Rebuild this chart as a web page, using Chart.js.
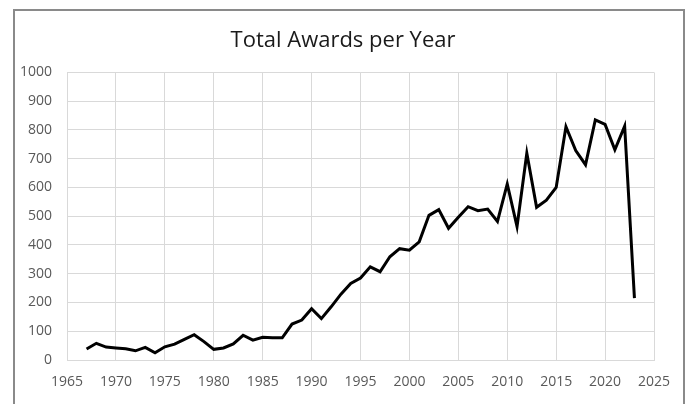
<!DOCTYPE html>
<html>
<head>
<meta charset="utf-8">
<script src="https://cdn.jsdelivr.net/npm/chart.js@4/dist/chart.umd.min.js"></script>
<style>
  html, body { margin: 0; padding: 0; background: #fff; }
  #wrap { position: relative; width: 686px; height: 404px; overflow: hidden; }
  #frame {
    position: absolute; left: 13px; top: 9px; width: 668px; height: 420px;
    border: 2px solid #8a8a8a; pointer-events: none;
  }
</style>
</head>
<body>
<div id="wrap">
  <canvas id="awards" width="686" height="404"></canvas>
  <div id="frame"></div>
</div>
<script>
const years = [
  1967, 1968, 1969, 1970, 1971, 1972, 1973, 1974, 1975, 1976,
  1977, 1978, 1979, 1980, 1981, 1982, 1983, 1984, 1985, 1986,
  1987, 1988, 1989, 1990, 1991, 1992, 1993, 1994, 1995, 1996,
  1997, 1998, 1999, 2000, 2001, 2002, 2003, 2004, 2005, 2006,
  2007, 2008, 2009, 2010, 2011, 2012, 2013, 2014, 2015, 2016,
  2017, 2018, 2019, 2020, 2021, 2022, 2023,
];
const awards = [
  38, 58, 45, 42, 39, 32, 44, 25, 46, 55,
  72, 88, 64, 37, 42, 56, 86, 69, 79, 77,
  77, 125, 139, 178, 144, 185, 229, 266, 285, 324,
  307, 359, 387, 382, 411, 503, 523, 458, 496, 533,
  519, 525, 482, 612, 464, 719, 531, 556, 600, 811,
  728, 679, 835, 819, 731, 813, 215,
];
const xTicks = { min: 1965, max: 2025, step: 5 };
const yTicks = { min: 0, max: 1000, step: 100 };

const points = years.map((year, i) => ({ x: year, y: awards[i] }));
const gridColor = '#d9d9d9';
const tickFont = { family: 'Open Sans', size: 14 };

const ctx = document.getElementById('awards').getContext('2d');
// eslint-disable-next-line no-new
new Chart(ctx, {
  type: 'line',
  data: {
    datasets: [{
      label: 'Total Awards',
      data: points,
      borderColor: '#000',
      borderWidth: 3,
      pointRadius: 0,
      tension: 0,
      fill: false,
      yAxisID: 'y',
    }],
  },
  options: {
    responsive: false,
    animation: false,
    layout: { padding: 0 },
    plugins: {
      legend: { display: false },
      tooltip: { enabled: false },
      title: {
        display: true,
        text: 'Total Awards per Year',
        color: '#1a1a1a',
        font: { family: 'Open Sans', size: 22, weight: 'normal' },
        padding: { top: 28, bottom: 18 },
      },
    },
    scales: {
      x: {
        type: 'linear',
        min: xTicks.min,
        max: xTicks.max,
        afterFit: (scale) => { scale.height = 44; },
        grid: { color: gridColor, drawTicks: false },
        border: { color: gridColor },
        ticks: {
          stepSize: xTicks.step,
          padding: 14,
          color: '#595959',
          font: tickFont,
          maxRotation: 0,
          callback: (v) => String(v),
        },
      },
      y: {
        min: yTicks.min,
        max: yTicks.max,
        afterFit: (scale) => { scale.width = 67; },
        grid: { color: gridColor, drawTicks: false },
        border: { display: false },
        ticks: {
          stepSize: yTicks.step,
          padding: 15,
          color: '#595959',
          font: tickFont,
          callback: (v) => String(v),
        },
      },
      // empty right-hand axis, only keeps the space to the right of the plot
      yRight: {
        position: 'right',
        min: yTicks.min,
        max: yTicks.max,
        afterFit: (scale) => { scale.width = 32; },
        grid: { display: false },
        border: { display: false },
        ticks: { display: false },
      },
    },
  },
});
</script>
</body>
</html>
